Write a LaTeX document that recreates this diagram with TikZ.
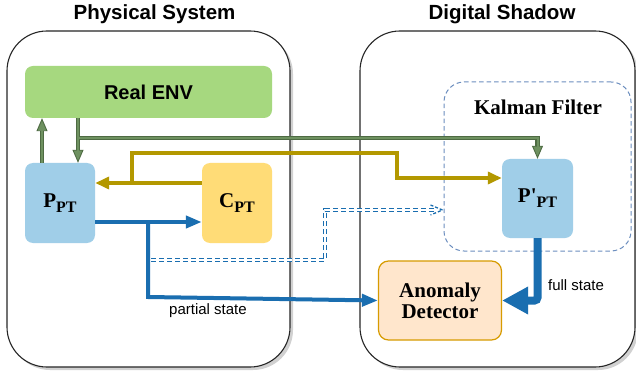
\documentclass[tikz,border=0pt]{standalone}
\usepackage{fontspec}
\setmainfont{Liberation Serif}
\setsansfont{Liberation Sans}
\usetikzlibrary{arrows.meta,shadows}
\definecolor{envfill}{HTML}{A6D87F}
\definecolor{pfill}{HTML}{A0CEE8}
\definecolor{cfill}{HTML}{FFDC77}
\definecolor{adfill}{HTML}{FFE6CC}
\definecolor{adline}{HTML}{D79B00}
\definecolor{kfline}{HTML}{6C8EBF}
\definecolor{gdark}{HTML}{4E6B43}
\definecolor{gfill}{HTML}{6E9160}
\definecolor{olive}{HTML}{B39800}
\definecolor{bblue}{HTML}{1A6EB0}
\tikzset{
  container/.style={draw=black!85, line width=1.1pt, fill=white, rounded corners=40pt,
    drop shadow={shadow xshift=3pt, shadow yshift=-3pt, fill=black!18, opacity=1}},
  block/.style={rounded corners=8pt, inner sep=0pt},
  title/.style={font=\sffamily\bfseries\fontsize{20.5}{24}\selectfont},
  big/.style={font=\bfseries\fontsize{21}{23}\selectfont, align=center},
  lbl/.style={font=\sffamily\fontsize{15}{17}\selectfont},
  gout/.style={line width=4.5pt, draw=gdark, -{Triangle[length=13pt,width=11pt,line width=0.9pt,fill=gfill]}},
  gin/.style={line width=2pt, draw=gfill, shorten >=11.5pt},
  oarrow/.style={line width=3.5pt, draw=olive, -{Triangle[length=14pt,width=12pt]}},
  barrow/.style={line width=4pt, draw=bblue, -{Triangle[length=16pt,width=12pt]}},
  bbig/.style={line width=8pt, draw=bblue, rounded corners=3pt, -{Triangle[length=26pt,width=26pt]}},
  bdash/.style={draw=bblue, line width=1.3pt, double=white, double distance=2.2pt, dash pattern=on 5pt off 3pt},
}
\newcommand{\sub}[2]{{\fontsize{21}{23}\selectfont #1\raisebox{-5pt}{\fontsize{16}{18}\selectfont PT}}}
\begin{document}
\begin{tikzpicture}[x=1pt,y=-1pt]
\useasboundingbox (0,0) rectangle (636,371);
% titles
\node[title] (t1) at (154.5,14) {Physical System};
\node[title] (t2) at (502,14) {Digital Shadow};
% containers
\node[container, minimum width=283pt, minimum height=336pt] (phys) at (148.5,199) {};
\node[container, minimum width=275pt, minimum height=336pt] (dig) at (497.5,199) {};
% Kalman filter box
\node[draw=kfline, line width=1pt, dash pattern=on 4.5pt off 3pt, rounded corners=20pt,
      minimum width=187pt, minimum height=169pt] (KF) at (537.5,166.5) {};
\node[big] (kft) at (538,107) {Kalman Filter};
% blocks
\node[block, fill=envfill, minimum width=247pt, minimum height=52pt,
      font=\sffamily\bfseries\fontsize{20}{24}\selectfont] (ENV) at (148.5,92) {Real ENV};
\node[block, fill=pfill, minimum width=70pt, minimum height=80pt] (P) at (60,203) {\bfseries\sub{P}{}};
\node[block, fill=cfill, minimum width=70pt, minimum height=80pt] (C) at (237,203) {\bfseries\sub{C}{}};
\node[block, fill=pfill, minimum width=71pt, minimum height=79pt] (Pp) at (537.5,198.5) {\bfseries\sub{P\textquotesingle}{}};
\node[block, big, draw=adline, line width=1.2pt, fill=adfill, minimum width=123pt, minimum height=79pt,
      rounded corners=10pt] (AD) at (440,300.5) {Anomaly\\[-2pt]Detector};
% helper coordinates
\coordinate (ga) at (42,0);
\coordinate (gb) at (78,0);
\coordinate (gh) at (0,138);
\coordinate (oy) at (0,183);
\coordinate (ob) at (132,0);
\coordinate (oh) at (0,153);
\coordinate (ox) at (397,0);
\coordinate (oy2) at (0,178);
\coordinate (by) at (0,222);
\coordinate (bx) at (148,0);
\coordinate (byl) at (0,297);
\coordinate (dy1) at (0,260);
\coordinate (dx) at (325,0);
\coordinate (dy2) at (0,210);
\coordinate (dend) at (KF.west |- dy2);
% green arrows (outer)
\draw[gout] (P.north -| ga) -- (ENV.south -| ga);
\draw[gout] (ENV.south -| gb) -- (P.north -| gb);
\draw[gout] (gb |- gh) -- (Pp.north |- gh) -- (Pp.north);
% green arrows (inner)
\draw[gin] (P.north -| ga) -- (ENV.south -| ga);
\draw[gin] (ENV.south -| gb) -- (P.north -| gb);
\draw[gin] (gb |- gh) -- (Pp.north |- gh) -- (Pp.north);
% olive arrows
\draw[oarrow] (C.west |- oy) -- (P.east |- oy);
\draw[oarrow] (ob |- oy) -- (ob |- oh) -- (ox |- oh) -- (ox |- oy2) -- (Pp.west |- oy2);
% dashed double arrow
\draw[bdash] (bx |- dy1) ++(3,0) -- (dx |- dy1) -- (dx |- dy2) -- ([xshift=-9pt]dend);
\draw[bblue, line width=1.3pt, dash pattern=on 3pt off 2pt] ([xshift=-13pt,yshift=5pt]dend) -- ([xshift=-1pt]dend) -- ([xshift=-13pt,yshift=-5pt]dend);
% blue arrows
\draw[barrow] (P.east |- by) -- (C.west |- by);
\draw[barrow] (bx |- by) -- (bx |- byl) -- (AD.west);
\draw[bbig] (Pp.south) |- (AD.east);
% labels
\node[lbl] (ps) at (208,311) {partial state};
\node[lbl] (fs) at (576,285) {full state};
\end{tikzpicture}
\end{document}
